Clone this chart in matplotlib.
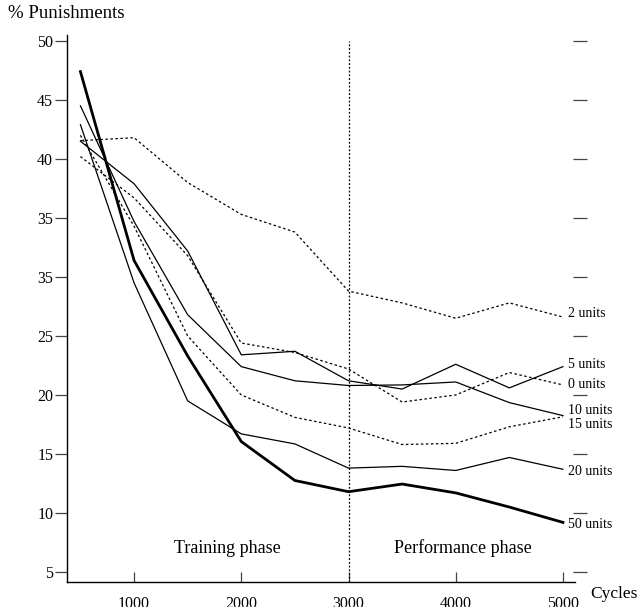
import matplotlib
matplotlib.use("Agg")
import matplotlib.pyplot as plt

plt.rcParams['font.family'] = ['Liberation Serif', 'DejaVu Serif']

# cycles at which the runs were sampled
cycles = [500, 1000, 1500, 2000, 2500, 3000, 3500, 4000, 4500, 5000]

# % punishments per run
units_0 = [40.2, 36.7, 31.8, 24.4, 23.6, 22.2, 19.4, 20.0, 21.9, 20.85]
units_2 = [41.55, 41.8, 38.0, 35.3, 33.8, 28.8, 27.8, 26.5, 27.8, 26.6]
units_5 = [41.5, 37.9, 32.2, 23.4, 23.7, 21.2, 20.5, 22.6, 20.6, 22.4]
units_10 = [44.5, 34.7, 26.8, 22.4, 21.2, 20.8, 20.85, 21.1, 19.35, 18.25]
units_15 = [42.0, 34.3, 25.0, 20.0, 18.1, 17.2, 15.8, 15.9, 17.3, 18.15]
units_20 = [42.9, 29.5, 19.5, 16.7, 15.85, 13.8, 13.95, 13.6, 14.7, 13.7]
units_50 = [47.4, 31.4, 23.3, 16.05, 12.75, 11.8, 12.45, 11.7, 10.5, 9.2]

y_ticks = [5, 10, 15, 20, 25, 30, 35, 40, 45, 50]
y_tick_labels = ['5', '10', '15', '20', '25', '35', '35', '40', '45', '50']
x_ticks = [1000, 2000, 3000, 4000, 5000]
phase_split = 3000

fig = plt.figure(figsize=(6.39, 6.07), dpi=100)
ax = fig.add_axes([0.1049, 0.0412, 0.7949, 0.9011])

thin = 0.9
dots = (0, (2, 2))
series = [
    (units_2, dots, thin, '2 units', 2.7),
    (units_5, '-', thin, '5 units', 1.2),
    (units_0, dots, thin, '0 units', 0.5),
    (units_10, '-', thin, '10 units', 3.6),
    (units_15, dots, thin, '15 units', -5.5),
    (units_20, '-', thin, '20 units', -1.4),
    (units_50, '-', 2.0, '50 units', -1.7),
]
for vals, ls, lw, name, dy in series:
    ax.plot(cycles, vals, color='black', linestyle=ls, linewidth=lw)
    ax.annotate(name, xy=(cycles[-1], vals[-1]), xytext=(3.5, dy),
                textcoords='offset points', ha='left', va='center',
                fontsize=10, annotation_clip=False)

ax.vlines(phase_split, 4.15, 50, colors='black', linestyles=(0, (1.5, 1.5)),
          linewidth=0.9)

ax.text(1870, 7.0, 'Training phase', ha='center', va='center', fontsize=13)
ax.text(4070, 7.0, 'Performance phase', ha='center', va='center', fontsize=13)

ax.set_xlim(375, 5112)
ax.set_ylim(4.15, 50.5)
ax.set_yticks(y_ticks)
ax.set_yticklabels(y_tick_labels)
ax.set_xticks(x_ticks)
ax.tick_params(axis='y', direction='out', length=9, width=0.9, color='#444',
               labelsize=11.5, pad=1)
ax.tick_params(axis='x', direction='in', length=7, width=0.9, color='#444',
               labelsize=11.5, pad=10)
for s in ['top', 'right']:
    ax.spines[s].set_visible(False)
for s in ['left', 'bottom']:
    ax.spines[s].set_linewidth(1.0)

# floating tick marks on the right-hand side
ax2 = ax.twinx()
ax2.set_ylim(ax.get_ylim())
ax2.set_yticks(y_ticks)
ax2.set_yticklabels([])
ax2.spines['right'].set_position(('axes', 1.0236))
for s in ['top', 'right', 'left', 'bottom']:
    ax2.spines[s].set_visible(False)
ax2.tick_params(axis='y', direction='in', length=10, width=0.9, color='#444')

fig.text(8 / 639, 1 - 14 / 607, '% Punishments', ha='left', va='center',
         fontsize=13.5)
fig.text(590 / 639, 1 - 594 / 607, 'Cycles', ha='left', va='center',
         fontsize=12.5)

fig.savefig('out.png', dpi=100)
